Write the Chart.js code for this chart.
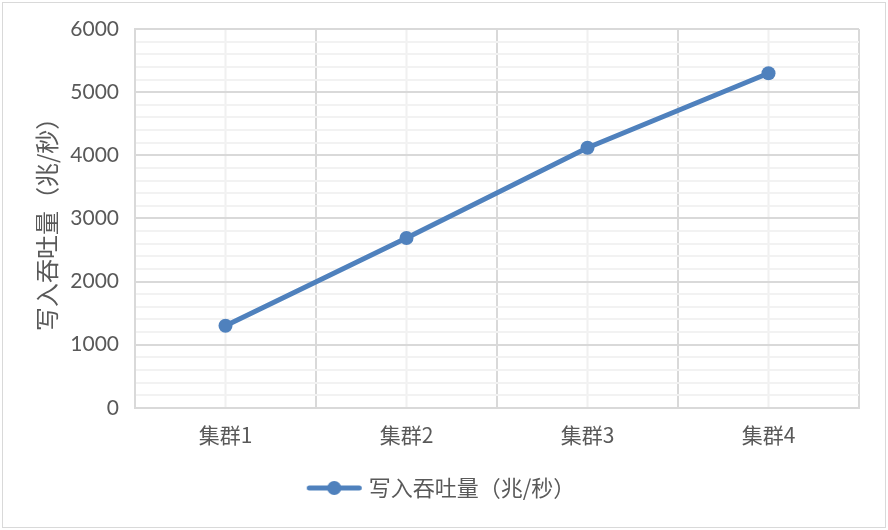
<!DOCTYPE html>
<html>
<head>
<meta charset="utf-8">
<script src="https://cdn.jsdelivr.net/npm/chart.js@4.4.1/dist/chart.umd.min.js"></script>
<style>
  html, body { margin: 0; padding: 0; background: #fff; }
  #wrap { position: absolute; left: 0; top: 0; width: 888px; height: 530px; }
  #frame { position: absolute; left: 2px; top: 2px; width: 882px; height: 524px; border: 1.5px solid #d9d9d9; pointer-events: none; }
</style>
</head>
<body>
<div id="wrap">
  <canvas id="grafico" width="888" height="530"></canvas>
  <div id="frame"></div>
</div>
<script>
// datos del gráfico
const categorias = ['集群1', '集群2', '集群3', '集群4'];
const throughput = [1300, 2690, 4120, 5300];
const nombreSerie = '写入吞吐量（兆/秒）';
const tituloEjeY = '写入吞吐量（兆/秒）';

const azul = '#4f81bd';

// icono de la leyenda: línea con un punto (dibujado a la derecha del lienzo)
function iconoLeyenda() {
    let c = document.createElement('canvas');
    c.width = 90; c.height = 16;
    let ctx = c.getContext('2d');
    ctx.strokeStyle = azul;
    ctx.lineWidth = 5;
    ctx.lineCap = 'round';
    ctx.beginPath();
    ctx.moveTo(33.5, 8); ctx.lineTo(83.5, 8);
    ctx.stroke();
    ctx.fillStyle = azul;
    ctx.beginPath();
    ctx.arc(58.5, 8, 7, 0, Math.PI * 2);
    ctx.fill();
    return c;
}
const icono = iconoLeyenda();

// líneas verticales menores en el centro de cada categoría
const lineasMenores = {
    id: 'lineasMenores',
    beforeDraw(chart) {
        let ctx = chart.ctx, x = chart.scales.x, area = chart.chartArea;
        ctx.save();
        ctx.strokeStyle = '#f0f0f0';
        ctx.lineWidth = 2;
        categorias.forEach((c, i) => {
            let px = x.getPixelForValue(i);
            ctx.beginPath();
            ctx.moveTo(px, area.top);
            ctx.lineTo(px, area.bottom);
            ctx.stroke();
        });
        ctx.restore();
    }
};

const cjk = '"Noto Sans CJK SC", "Noto Sans", sans-serif';

new Chart(document.getElementById('grafico').getContext('2d'), {
    type: 'line',
    data: {
        labels: categorias,
        datasets: [{
            label: nombreSerie,
            data: throughput,
            borderColor: azul,
            backgroundColor: azul,
            borderWidth: 5,
            pointRadius: 7,
            pointHoverRadius: 7,
            pointBackgroundColor: azul,
            pointBorderWidth: 0,
            tension: 0,
            pointStyle: 'circle'
        }]
    },
    options: {
        responsive: false,
        animation: false,
        layout: { padding: { top: 29, right: 29, left: 0, bottom: 21 } },
        plugins: {
            tooltip: { enabled: false },
            legend: {
                position: 'bottom',
                labels: {
                    usePointStyle: true,
                    pointStyleWidth: 74,
                    boxHeight: 16,
                    padding: 14,
                    color: '#595959',
                    font: { family: cjk, size: 22 },
                    generateLabels: chart => chart.data.datasets.map((ds, i) => ({
                        text: ds.label,
                        pointStyle: icono,
                        fillStyle: azul,
                        strokeStyle: azul,
                        lineWidth: 0,
                        fontColor: '#595959',
                        datasetIndex: i
                    }))
                }
            }
        },
        scales: {
            x: {
                offset: true,
                grid: { offset: true, color: '#d9d9d9', lineWidth: 2, drawTicks: false },
                border: { color: '#d9d9d9', width: 2 },
                ticks: { color: '#595959', padding: 15, font: { family: cjk, size: 21 } }
            },
            y: {
                min: 0,
                max: 6000,
                afterFit: s => { s.width = 135; },
                grid: {
                    drawTicks: false,
                    lineWidth: 2,
                    color: c => (c.tick && c.tick.value % 1000 === 0) ? '#d9d9d9' : '#f2f2f2'
                },
                border: { color: '#d9d9d9', width: 2 },
                ticks: {
                    stepSize: 200,
                    autoSkip: false,
                    padding: 16,
                    color: '#595959',
                    font: { family: 'Lato, "Noto Sans", sans-serif', size: 21 },
                    callback: v => v % 1000 === 0 ? v : ''
                },
                title: {
                    display: true,
                    text: tituloEjeY,
                    color: '#595959',
                    padding: { top: 32, bottom: 0 },
                    font: { family: cjk, size: 24 }
                }
            }
        }
    },
    plugins: [lineasMenores]
});
</script>
</body>
</html>
